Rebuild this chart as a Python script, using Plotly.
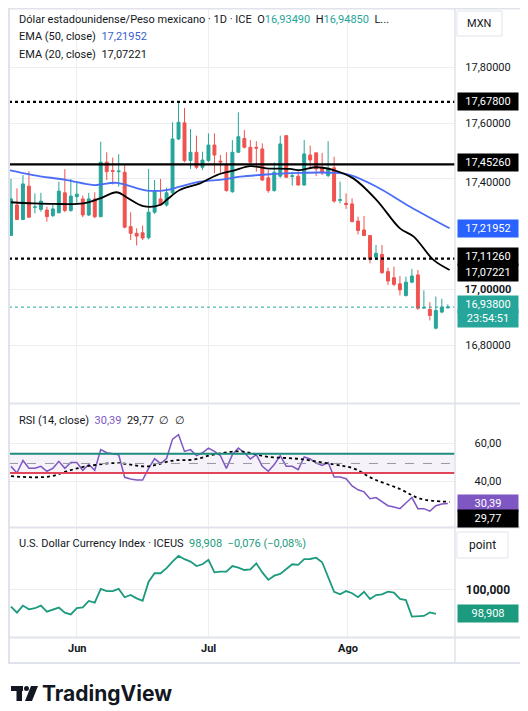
import plotly.graph_objects as go

opens  = [17.196,17.306,17.254,17.374,17.298,17.290,17.288,17.268,17.278,17.350,17.286,17.336,17.328,17.270,17.328,17.264,17.460,17.430,17.426,17.424,17.228,17.204,17.206,17.188,17.280,17.328,17.306,17.350,17.544,17.602,17.466,17.496,17.442,17.466,17.522,17.464,17.450,17.354,17.496,17.546,17.514,17.514,17.508,17.404,17.358,17.410,17.556,17.409,17.410,17.378,17.486,17.494,17.440,17.412,17.440,17.323,17.312,17.310,17.248,17.216,17.196,17.118,17.128,17.066,17.044,17.022,16.980,17.028,17.054,16.935,16.930,16.862,16.920,16.935]
closes = [17.328,17.254,17.382,17.262,17.299,17.320,17.264,17.292,17.356,17.286,17.338,17.345,17.270,17.328,17.264,17.460,17.426,17.428,17.428,17.226,17.204,17.194,17.187,17.280,17.356,17.306,17.350,17.544,17.604,17.466,17.496,17.442,17.468,17.522,17.486,17.461,17.358,17.496,17.552,17.514,17.460,17.511,17.396,17.358,17.424,17.526,17.406,17.411,17.378,17.490,17.468,17.436,17.422,17.438,17.320,17.325,17.308,17.246,17.214,17.196,17.110,17.132,17.062,17.032,17.020,17.000,17.028,17.050,16.934,16.936,16.908,16.926,16.938,16.938]
highs  = [17.400,17.366,17.414,17.428,17.348,17.350,17.300,17.310,17.390,17.435,17.400,17.390,17.340,17.350,17.352,17.534,17.496,17.477,17.489,17.450,17.280,17.222,17.232,17.436,17.396,17.400,17.368,17.604,17.676,17.656,17.580,17.556,17.498,17.564,17.564,17.486,17.496,17.540,17.640,17.576,17.540,17.536,17.528,17.432,17.460,17.556,17.556,17.426,17.432,17.540,17.520,17.494,17.494,17.536,17.480,17.390,17.348,17.330,17.264,17.266,17.196,17.162,17.162,17.080,17.084,17.050,17.048,17.076,17.072,16.998,16.956,16.976,16.968,16.948]
lows   = [17.196,17.252,17.252,17.262,17.276,17.282,17.246,17.262,17.276,17.280,17.282,17.310,17.262,17.266,17.258,17.262,17.396,17.380,17.372,17.222,17.180,17.160,17.180,17.182,17.274,17.304,17.300,17.344,17.540,17.460,17.436,17.436,17.432,17.462,17.420,17.420,17.354,17.350,17.494,17.510,17.454,17.426,17.392,17.350,17.354,17.404,17.404,17.376,17.376,17.376,17.436,17.410,17.414,17.406,17.314,17.312,17.292,17.244,17.200,17.196,17.096,17.108,17.058,17.018,17.014,16.980,16.976,17.024,16.928,16.932,16.890,16.858,16.916,16.935]

ema50_idx = [-0.3,3.7,9.3,13.8,17.7,22.7,26,28.2,31.6,35.5,38.3,42.7,48.3,53.9,56.7,61.1,66.7,73.3]
ema50_val = [17.432,17.414,17.396,17.378,17.386,17.358,17.360,17.372,17.390,17.398,17.408,17.416,17.422,17.422,17.414,17.372,17.300,17.222]
ema20_idx = [0,3.7,7.1,12.1,14.9,17.7,19.3,22.1,24.9,26,28.2,31.6,34.4,37.2,40,42.7,46.6,48.3,51.1,53.9,57.2,61.1,65,67.3,70.6,73.3]
ema20_val = [17.316,17.312,17.310,17.312,17.330,17.352,17.334,17.302,17.306,17.324,17.360,17.384,17.414,17.430,17.446,17.438,17.436,17.432,17.442,17.432,17.402,17.324,17.222,17.192,17.108,17.072]

rsi = [48,44.6,51,47,47,48,45.5,47,50.6,47,50,50,46,49,46,56.6,55,54.5,54,42.4,41.5,41,41,47,52,49.4,52,62,64.3,55.7,56.6,53.5,55,57.4,55.7,53.5,47,54,57.4,55,51.8,54,48,45.5,49,53.5,48,48,46.3,52.8,51.8,49.7,48.5,50,42.5,42.5,41.7,38,36,34.9,31.4,32,29.7,27.8,27.1,26.3,29.2,32,26.3,26.3,25,27.8,28.7,28.9]
rsi_ma_idx = [0,3.7,6.8,9.3,12.6,17.7,22.7,27.1,30.5,33.8,38.3,42.7,48.3,53.9,57.2,60.6,65,68.4,73.3]
rsi_ma_val = [43,42.4,43,45.5,48,49.7,48,51,51.5,54,55.7,53,51.8,49,47,41.5,36.4,31.4,29.8]

dxy = [99.24,98.97,99.29,99.12,99.17,99.29,99.01,99.12,99.2,98.97,98.89,99.17,99.21,99.5,99.42,100.05,99.95,99.95,100.05,99.67,99.77,99.62,99.51,100.38,100.76,100.76,100.99,101.29,101.55,101.4,101.29,101.09,101.17,101.37,100.8,100.83,100.83,101.09,101.02,100.91,100.94,101.21,100.8,100.46,100.65,100.73,100.94,101.17,101.14,101.4,101.41,101.47,101.26,100.61,99.92,99.8,99.95,99.85,99.67,99.92,99.59,99.77,99.8,99.92,99.88,99.59,99.54,98.79,98.82,98.82,98.98,98.908]

month_pos = [10.97, 33.0, 56.3]
month_labels = ["Jun", "Jul", "Ago"]
price_ticks = [17.8, 17.6, 17.4, 17.0, 16.8]
price_tick_labels = ["17,80000", "17,60000", "17,40000", "17,00000", "16,80000"]
levels_dotted = [17.678, 17.1126]
level_solid = 17.4526
rsi_upper, rsi_lower, rsi_mid = 54.5, 44.6, 49.5

GREEN = "#26a69a"; RED = "#ef5350"; BLUE = "#2962ff"; PURPLE = "#7e57c2"
FONT = "Roboto"
x = list(range(len(closes)))

fig = go.Figure()
fig.add_trace(go.Candlestick(x=x, open=opens, high=highs, low=lows, close=closes,
    increasing=dict(line=dict(color=GREEN, width=1), fillcolor=GREEN),
    decreasing=dict(line=dict(color=RED, width=1), fillcolor=RED),
    whiskerwidth=0, xaxis="x", yaxis="y", showlegend=False, hoverinfo="skip"))
fig.add_trace(go.Scatter(x=ema50_idx, y=ema50_val, mode="lines", line=dict(color="#4a6cf7", width=1.8, shape="spline"), xaxis="x", yaxis="y"))
fig.add_trace(go.Scatter(x=ema20_idx, y=ema20_val, mode="lines", line=dict(color="black", width=1.8, shape="spline"), xaxis="x", yaxis="y"))
fig.add_trace(go.Scatter(x=x, y=rsi, mode="lines", line=dict(color=PURPLE, width=1.5), xaxis="x2", yaxis="y2"))
fig.add_trace(go.Scatter(x=rsi_ma_idx, y=rsi_ma_val, mode="lines", line=dict(color="black", width=1.8, dash="dot", shape="spline"), xaxis="x2", yaxis="y2"))
fig.add_trace(go.Scatter(x=list(range(len(dxy))), y=dxy, mode="lines", line=dict(color="#1b9a7e", width=1.8), xaxis="x3", yaxis="y3"))

xr = [-0.33, 74.2]
common_x = dict(range=xr, showticklabels=False, tickvals=month_pos, showgrid=True, gridcolor="#eeeeee", zeroline=False, fixedrange=True)
# the page body adds 8px margin: figure pixel = reference pixel - 8
fig.update_layout(
    width=520, height=703, margin=dict(l=1, r=73, t=0, b=74),
    paper_bgcolor="white", plot_bgcolor="white", showlegend=False,
    font=dict(family=FONT, size=11, color="#131722"),
    xaxis=dict(**common_x, domain=[0, 1], anchor="y", rangeslider=dict(visible=False)),
    xaxis2=dict(**common_x, domain=[0, 1], anchor="y2"),
    xaxis3=dict(**common_x, domain=[0, 1], anchor="y3"),
    yaxis=dict(domain=[0.3736, 1], range=[16.596, 18.016], tickvals=price_ticks, showticklabels=False, gridcolor="#eeeeee", zeroline=False),
    yaxis2=dict(domain=[0.1765, 0.3688], range=[17.4, 79.5], tickvals=[40, 60], showticklabels=False, gridcolor="#eeeeee", zeroline=False),
    yaxis3=dict(domain=[0, 0.1733], range=[97.86, 102.82], tickvals=[100], showticklabels=False, gridcolor="#eeeeee", zeroline=False),
)

shapes = []
for lv in levels_dotted:
    shapes.append(dict(type="line", xref="paper", x0=0, x1=1, yref="y", y0=lv, y1=lv, line=dict(color="black", width=2.2, dash="dot")))
shapes.append(dict(type="line", xref="paper", x0=0, x1=1, yref="y", y0=level_solid, y1=level_solid, line=dict(color="black", width=2.2)))
shapes.append(dict(type="line", xref="paper", x0=0, x1=1, yref="y", y0=closes[-1], y1=closes[-1], line=dict(color=GREEN, width=1, dash="dot")))
shapes.append(dict(type="rect", xref="paper", x0=0, x1=1, yref="y2", y0=rsi_lower, y1=rsi_upper, fillcolor="rgba(126,87,194,0.08)", line=dict(width=0), layer="below"))
shapes.append(dict(type="line", xref="paper", x0=0, x1=1, yref="y2", y0=rsi_upper, y1=rsi_upper, line=dict(color="#1e8c7e", width=2)))
shapes.append(dict(type="line", xref="paper", x0=0, x1=1, yref="y2", y0=rsi_lower, y1=rsi_lower, line=dict(color="#e0455a", width=2)))
shapes.append(dict(type="line", xref="paper", x0=0, x1=1, yref="y2", y0=rsi_mid, y1=rsi_mid, line=dict(color="#9598a1", width=1, dash="dash")))
def py(p): return (637 - p) / 629
def px(p): return (p - 9) / 446
for p in [403.5, 527.5, 637.5]:
    shapes.append(dict(type="line", xref="paper", yref="paper", x0=px(9), x1=px(521), y0=py(p), y1=py(p), line=dict(color="#e0e3eb", width=2)))
shapes.append(dict(type="rect", xref="paper", yref="paper", x0=px(9), x1=px(521), y0=py(663), y1=py(8.5), line=dict(color="#e0e3eb", width=2)))
shapes.append(dict(type="line", xref="paper", yref="paper", x0=px(455), x1=px(455), y0=py(663), y1=py(8), line=dict(color="#e0e3eb", width=1.5)))
shapes.append(dict(type="rect", xref="paper", yref="paper", x0=px(457), x1=px(502), y0=py(36), y1=py(11), line=dict(color="#e0e3eb", width=1), fillcolor="white"))
shapes.append(dict(type="rect", xref="paper", yref="paper", x0=px(457), x1=px(508), y0=py(558), y1=py(532), line=dict(color="#e0e3eb", width=1), fillcolor="white"))
# logo
shapes.append(dict(type="rect", xref="paper", yref="paper", x0=px(11), x1=px(23), y0=py(691), y1=py(686), fillcolor="#131722", line=dict(width=0)))
shapes.append(dict(type="rect", xref="paper", yref="paper", x0=px(16.5), x1=px(22), y0=py(701), y1=py(686), fillcolor="#131722", line=dict(width=0)))
shapes.append(dict(type="circle", xref="paper", yref="paper", x0=px(24), x1=px(29), y0=py(691), y1=py(686), fillcolor="#131722", line=dict(width=0)))
shapes.append(dict(type="path", xref="paper", yref="paper", path=f"M {px(31)},{py(686)} L {px(38)},{py(686)} L {px(32)},{py(701)} L {px(25)},{py(701)} Z", fillcolor="#131722", line=dict(width=0)))
fig.update_layout(shapes=shapes)

ann = []
def lab(text, y, yref="y", color="white", bg="black", yshift=0, bold=False, border=None, size=11, w=56):
    ann.append(dict(text=("<b>%s</b>" % text) if bold else text, xref="paper", x=px(457), xanchor="left", y=y, yref=yref,
                    yanchor="middle", yshift=yshift, showarrow=False, font=dict(color=color, size=size, family=FONT),
                    bgcolor=bg, bordercolor=border, borderpad=2, width=w, align="center"))
for v, t in zip(price_ticks, price_tick_labels):
    if v == 17.0:
        lab(t, v, color="#131722", bg="rgba(0,0,0,0)", bold=True)
    elif v == 17.4:
        continue
    else:
        lab(t, v, color="#131722", bg="rgba(0,0,0,0)")
lab("17,40000", 17.4, color="#131722", bg="rgba(0,0,0,0)", yshift=-4)
lab("17,67800", levels_dotted[0])
lab("17,45260", level_solid, yshift=2)
lab("17,21952", ema50_val[-1], bg=BLUE)
lab("17,11260", levels_dotted[1], yshift=2)
lab("17,07221", ema20_val[-1], yshift=-3)
lab("16,93800", closes[-1], bg=GREEN, yshift=3)
lab("23:54:51", closes[-1], bg=GREEN, yshift=-11)
lab("60,00", 60, yref="y2", color="#131722", bg="rgba(0,0,0,0)")
lab("40,00", 40, yref="y2", color="#131722", bg="rgba(0,0,0,0)")
lab("30,39", rsi[-1], yref="y2", bg=PURPLE, yshift=0)
lab("29,77", rsi_ma_val[-1], yref="y2", bg="black", yshift=-17)
lab("100,000", 100, yref="y3", color="#131722", bg="rgba(0,0,0,0)", bold=True, size=12)
lab("98,908", dxy[-1], yref="y3", bg="#1b9a7e")

def tl(text, ypix, xpix=17, size=11, anchor="left", family=FONT):
    ann.append(dict(text=text, xref="paper", yref="paper", x=px(xpix), xanchor=anchor, y=py(ypix), yanchor="middle",
                    showarrow=False, font=dict(size=size, family=family, color="#131722")))
tl("MXN", 23, 479, anchor="center")
tl("point", 545, 482, size=12, anchor="center")
tl("Dólar estadounidense/Peso mexicano · 1D · ICE  O<span style='color:%s'>16,93490</span>  H<span style='color:%s'>16,94850</span>  L..." % (GREEN, GREEN), 19)
tl("EMA (50, close)  <span style='color:#3a5fcd'>17,21952</span>", 37)
tl("EMA (20, close)  17,07221", 54)
tl("RSI (14, close)  <span style='color:%s'>30,39</span>  29,77  ∅  ∅" % PURPLE, 421)
tl("U.S. Dollar Currency Index · ICEUS  <span style='color:#1b9a7e'>98,908  −0,076 (−0,08%)</span>", 543)
for p, t in zip(month_pos, month_labels):
    ann.append(dict(text="<b>%s</b>" % t, xref="x3", x=p, yref="paper", y=py(648), yanchor="middle", showarrow=False, font=dict(size=11, family=FONT, color="#131722")))
tl("<b>TradingView</b>", 693, 40, size=21, family="Inter")
fig.update_layout(annotations=ann)

fig.write_html("out.html")
